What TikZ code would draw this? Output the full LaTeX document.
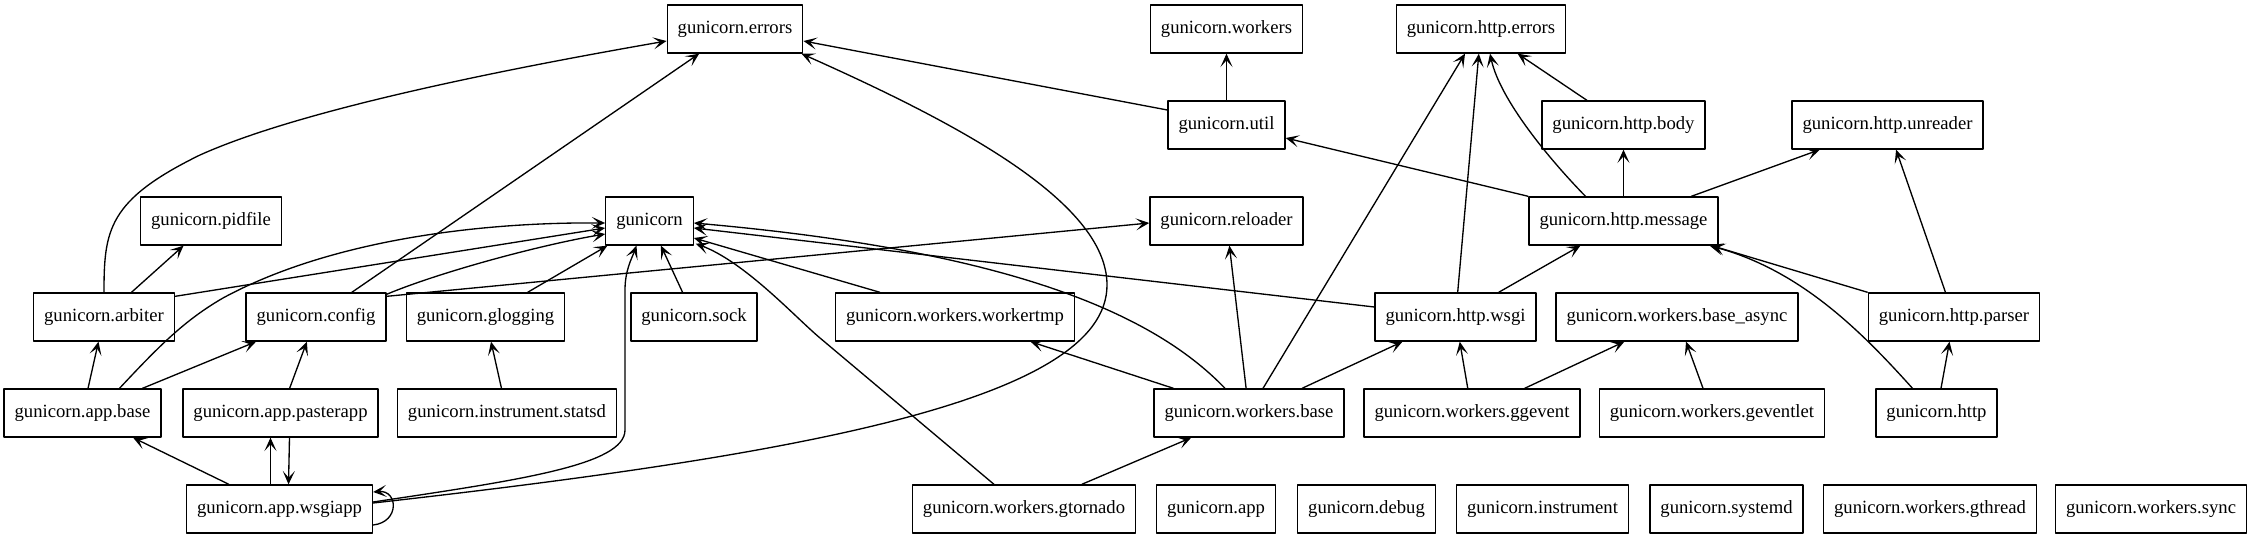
\documentclass[tikz,border=0pt]{standalone}
\usepackage{fontspec}
\setmainfont{Liberation Serif}
\usetikzlibrary{arrows.meta,calc}
\begin{document}
\begin{tikzpicture}[
        x=0.75pt, y=-0.75pt,
        mod/.style = {draw, rectangle, line width=1pt, minimum height=36pt, inner xsep=7.9pt, inner ysep=0pt,
                      text height=9.8pt, text depth=3.2pt, font=\fontsize{14}{16}\selectfont},
        dep/.style = {-{Stealth[length=10pt, width=9pt, inset=5pt]}, line width=1pt},
        line join=round
    ]
        \useasboundingbox (0,0) rectangle (2251,539);
        \node[mod] (errors)     at (735,29)    {gunicorn.errors};
        \node[mod] (workers)    at (1226.5,29) {gunicorn.workers};
        \node[mod] (httperrors) at (1481,29)   {gunicorn.http.errors};
        \node[mod] (util)       at (1226.5,125) {gunicorn.util};
        \node[mod] (httpbody)   at (1623.5,125) {gunicorn.http.body};
        \node[mod] (unreader)   at (1887.5,125) {gunicorn.http.unreader};
        \node[mod] (pidfile)    at (211,221)   {gunicorn.pidfile};
        \node[mod] (gunicorn)   at (649.5,221) {gunicorn};
        \node[mod] (reloader)   at (1226.5,221) {gunicorn.reloader};
        \node[mod] (message)    at (1623.5,221) {gunicorn.http.message};
        \node[mod] (arbiter)    at (104,317)   {gunicorn.arbiter};
        \node[mod] (config)     at (316,317)   {gunicorn.config};
        \node[mod] (glogging)   at (485.5,317) {gunicorn.glogging};
        \node[mod] (sock)       at (694,317)   {gunicorn.sock};
        \node[mod] (workertmp)  at (955,317)   {gunicorn.workers.workertmp};
        \node[mod] (httpwsgi)   at (1455.5,317) {gunicorn.http.wsgi};
        \node[mod] (baseasync)  at (1677,317)  {gunicorn.workers.base\_async};
        \node[mod] (parser)     at (1954,317)  {gunicorn.http.parser};
        \node[mod] (appbase)    at (82.5,413)  {gunicorn.app.base};
        \node[mod] (paster)     at (280.5,413) {gunicorn.app.pasterapp};
        \node[mod] (statsd)     at (507,413)   {gunicorn.instrument.statsd};
        \node[mod] (wbase)      at (1249,413)  {gunicorn.workers.base};
        \node[mod] (ggevent)    at (1472,413)  {gunicorn.workers.ggevent};
        \node[mod] (geventlet)  at (1712,413)  {gunicorn.workers.geventlet};
        \node[mod] (http)       at (1936.5,413) {gunicorn.http};
        \node[mod] (wsgiapp)    at (279.5,509) {gunicorn.app.wsgiapp};
        \node[mod] (gtornado)   at (1024,509)  {gunicorn.workers.gtornado};
        \node[mod] (app)        at (1216,509)  {gunicorn.app};
        \node[mod] (debug)      at (1366.5,509) {gunicorn.debug};
        \node[mod] (instrument) at (1542.5,509) {gunicorn.instrument};
        \node[mod] (systemd)    at (1726.5,509) {gunicorn.systemd};
        \node[mod] (gthread)    at (1930,509)  {gunicorn.workers.gthread};
        \node[mod] (sync)       at (2151,509)  {gunicorn.workers.sync};

        \draw[dep] (arbiter.north) .. controls (104,230) and (108,200) .. (200,155) .. controls (300,110) and (500,70) .. ($(errors.west)+(0,12)$);
        \draw[dep] (arbiter) -- (pidfile);
        \draw[dep] ($(arbiter.north east)+(0,4)$) -- ($(gunicorn.west)+(0,7)$);
        \draw[dep] (config) -- (errors);
        \draw[dep] ($(config.north east)+(0,2)$) .. controls (440,272) and (540,245) .. ($(gunicorn.west)+(0,13)$);
        \draw[dep] ($(config.north east)+(0,4)$) -- ($(reloader.west)+(0,2)$);
        \draw[dep] (glogging) -- (gunicorn);
        \draw[dep] (appbase) -- (arbiter);
        \draw[dep] (appbase) -- (config);
        \draw[dep] ($(appbase.north)+(37,0)$) .. controls (160,345) and (185,320) .. (223,298) .. controls (330,240) and (480,222) .. ($(gunicorn.west)+(0,2)$);
        \draw[dep] (paster) -- (config);
        \draw[dep] ($(paster.south)+(9,0)$) -- ($(wsgiapp.north)+(9,0)$);
        \draw[dep] ($(wsgiapp.north)+(-9,0)$) -- ($(paster.south)+(-10,0)$);
        \draw[dep] (wsgiapp) -- (appbase);
        \draw[dep] ($(wsgiapp.east)+(0,16)$) .. controls (400,522) and (398,490) .. ($(wsgiapp.east)+(0,-17)$);
        \draw[dep] ($(wsgiapp.east)+(0,-7)$) .. controls (520,480) and (625,465) .. (625,430) -- (625,290) .. controls (625,270) and (632,258) .. ($(gunicorn.south)+(-13,0)$);
        \draw[dep] ($(wsgiapp.east)+(0,-6)$) .. controls (800,455) and (1107,400) .. (1107,285) .. controls (1107,200) and (950,120) .. ($(errors.south east)+(-2,0)$);
        \draw[dep] (statsd) -- (glogging);
        \draw[dep] (sock) -- (gunicorn);
        \draw[dep] ($(workertmp.north)+(-75,0)$) -- ($(gunicorn.east)+(0,17)$);
        \draw[dep] ($(wbase.north)+(-24,0)$) .. controls (1150,310) and (1000,250) .. ($(gunicorn.east)+(0,2)$);
        \draw[dep] (wbase) -- (workertmp);
        \draw[dep] (wbase) -- (reloader);
        \draw[dep] ($(wbase.north)+(14,0)$) -- ($(httperrors.south)+(-16,0)$);
        \draw[dep] (wbase) -- (httpwsgi);
        \draw[dep] ($(gtornado.north)+(-30,0)$) -- (820,338) .. controls (795,317) and (745,262) .. ($(gunicorn.south east)+(2,-2)$);
        \draw[dep] (gtornado) -- (wbase);
        \draw[dep] ($(httpwsgi.west)+(0,-10)$) -- ($(gunicorn.east)+(0,7)$);
        \draw[dep] (httpwsgi) -- (httperrors);
        \draw[dep] (httpwsgi) -- (message);
        \draw[dep] ($(util.west)+(0,-15)$) -- ($(errors.east)+(0,12)$);
        \draw[dep] (util) -- (workers);
        \draw[dep] (message.north west) -- ($(util.east)+(0,13)$);
        \draw[dep] ($(message.north)+(-38,0)$) .. controls (1550,160) and (1500,100) .. ($(httperrors.south)+(9,0)$);
        \draw[dep] (message) -- (httpbody);
        \draw[dep] (message) -- (unreader);
        \draw[dep] (httpbody) -- (httperrors);
        \draw[dep] (parser.north west) -- ($(message.south east)+(-7,0)$);
        \draw[dep] (parser) -- (unreader);
        \draw[dep] (http) -- (parser);
        \draw[dep] ($(http.north)+(-24,0)$) .. controls (1860,330) and (1800,270) .. ($(message.south east)+(-9,0)$);
        \draw[dep] (ggevent) -- (httpwsgi);
        \draw[dep] (ggevent) -- (baseasync);
        \draw[dep] (geventlet) -- (baseasync);
    \end{tikzpicture}
\end{document}
